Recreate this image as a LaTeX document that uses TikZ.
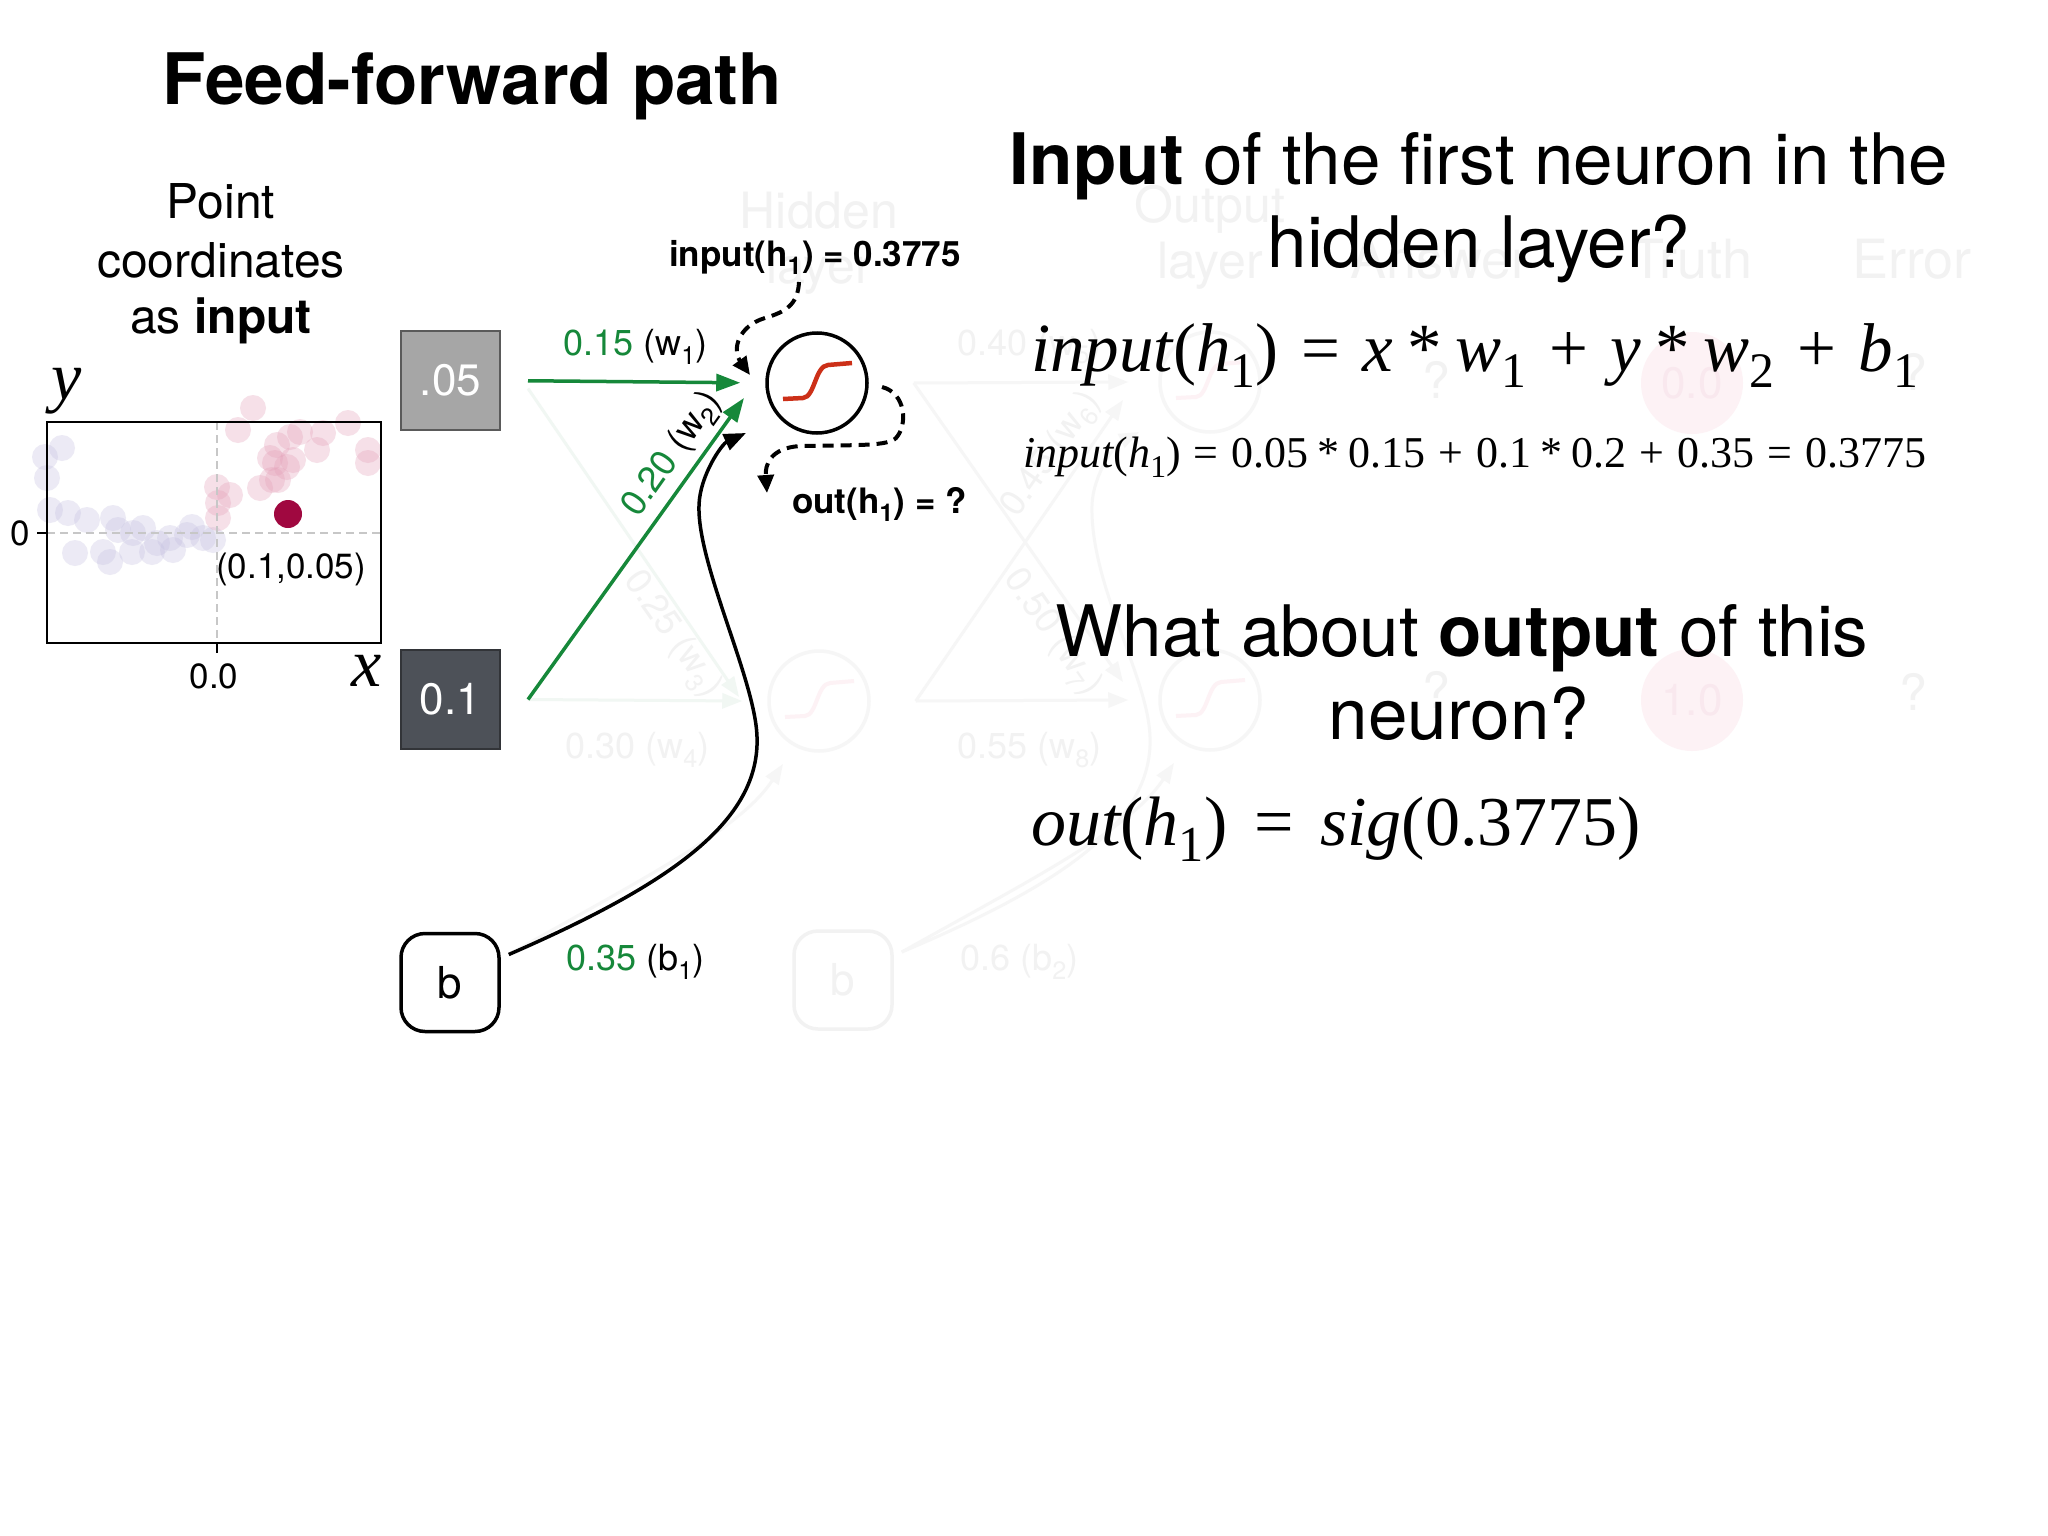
\documentclass[tikz,border=0pt]{standalone}
\usepackage{fontspec}
\usepackage{graphicx}
\setmainfont{TeX Gyre Heros}
\newfontfamily\tms{Liberation Serif}
\usetikzlibrary{arrows.meta}
\definecolor{grn}{RGB}{22,136,58}
\definecolor{boxlight}{RGB}{166,166,166}
\definecolor{boxlightedge}{RGB}{90,90,90}
\definecolor{boxdark}{RGB}{77,81,88}
\definecolor{boxdarkedge}{RGB}{50,52,56}
\definecolor{dotred}{RGB}{160,8,64}
\definecolor{sigred}{RGB}{204,48,24}
\definecolor{dotpink}{RGB}{228,160,184}
\definecolor{dotblue}{RGB}{196,192,224}
\definecolor{faint}{RGB}{242,242,242}
\definecolor{faintline}{RGB}{246,246,246}
\definecolor{faintgrn}{RGB}{241,247,243}
\definecolor{faintpink}{RGB}{253,242,245}
\definecolor{faintpinktext}{RGB}{249,232,238}
\newcommand\fsz[1]{\fontsize{#1pt}{#1pt}\selectfont}
\newcommand\lsub[1]{\raisebox{-0.24em}{\upshape\scalebox{0.72}{#1}}}
\newcommand\mysp{\hspace{0.33em}}
\newcommand\myssp{\hspace{0.2em}}
\newcommand\mybsp{\hspace{0.3em}}
\newcommand\mybssp{\hspace{0.2em}}
\begin{document}
\begin{tikzpicture}[x=1pt,y=-1pt,
  inbox/.style={draw, line width=2pt, minimum width=99pt, minimum height=99pt, inner sep=0pt, text=white, font=\fsz{44}},
  biasbox/.style={draw, line width=3.5pt, rounded corners=24pt, minimum width=98pt, minimum height=98pt, inner sep=0pt, font=\fsz{44}},
  neuron/.style={circle, draw, line width=3.5pt, minimum size=100pt, inner sep=0pt},
  garrow/.style={grn, line width=3.5pt, -{Triangle[length=24pt,width=17pt]}},
  barrow/.style={black, line width=3.5pt, -{Triangle[length=22pt,width=17pt]}},
  darrow/.style={black, line width=4pt, dash pattern=on 11pt off 7pt, -{Triangle[length=18pt,width=16pt]}},
  farrow/.style={faintline, line width=3pt, -{Triangle[length=20pt,width=15pt]}},
  fgarrow/.style={faintgrn, line width=3pt, -{Triangle[length=20pt,width=15pt]}},
  lbl/.style={inner sep=0pt, font=\fsz{36}},
  flbl/.style={inner sep=0pt, font=\fsz{36}, text=faint},
  hdr/.style={inner sep=0pt, font=\fsz{71}, anchor=base},
  fhdr/.style={inner sep=0pt, font=\fsz{50}, anchor=base, text=faint},
  eqn/.style={inner sep=0pt, anchor=base west},
  bold/.style={inner sep=0pt, font=\fsz{35}\bfseries, anchor=base west}
]
\fill[white] (0,0) rectangle (2048,1536);
\useasboundingbox (0,0) rectangle (2048,1536);

% ---------------- faint background network ----------------
\node[fhdr] (hidA) at (819,228) {Hidden};
\node[fhdr] (hidB) at (819,283) {layer};
\node[fhdr] (outA) at (1210,222) {Output};
\node[fhdr] (outB) at (1210,278) {layer};
\node[fhdr, font=\fsz{54}] (ans) at (1440,278) {Answer};
\node[fhdr, font=\fsz{54}] (tru) at (1692,278) {Truth};
\node[fhdr, font=\fsz{54}] (err) at (1912,278) {Error};

\node[neuron, draw=faintline] (h2) at (819,701) {};
\node[neuron, draw=faintline] (o1) at (1210,382) {};
\node[neuron, draw=faintline] (o2) at (1210,700) {};
\foreach \n in {h2,o1,o2}{
  \draw[faintpink, line width=4pt] ([shift={(-34,16)}]\n.center) -- ([shift={(-14,15)}]\n.center)
    .. controls ([shift={(-2,14)}]\n.center) and ([shift={(-2,-17)}]\n.center) .. ([shift={(11,-18)}]\n.center)
    -- ([shift={(35,-20)}]\n.center);
}
\node[circle, fill=faintpink, minimum size=102pt, inner sep=0pt, font=\fsz{44}, text=faintpinktext] (t1) at (1692,383) {0.0};
\node[circle, fill=faintpink, minimum size=102pt, inner sep=0pt, font=\fsz{44}, text=faintpinktext] (t2) at (1692,700) {1.0};
\node[fhdr, anchor=center] (a1) at (1436,380) {?};
\node[fhdr, anchor=center] (a2) at (1436,690) {?};
\node[fhdr, anchor=center] (e1) at (1913,372) {?};
\node[fhdr, anchor=center] (e2) at (1913,692) {?};

\node[biasbox, draw=faint, text=faint] (b2) at (843,980) {b};

% ---------------- main input boxes and neuron ----------------
\node[inbox, fill=boxlight, draw=boxlightedge] (x05) at (450.5,380.5) {.05};
\node[inbox, fill=boxdark, draw=boxdarkedge] (x1) at (450.5,699.5) {0.1};
\node[biasbox] (b1) at (450,982.5) {b};
\node[neuron] (h1) at (817,383) {};

% faint connections
\draw[fgarrow] ([shift={(27,8)}]x05.east) -- ([shift={(-80,-4)}]h2.center);
\draw[fgarrow] ([xshift=27pt]x1.east) -- ([xshift=-25pt]h2.west);
\draw[farrow] ([xshift=45pt]h1.east) -- ([xshift=-30pt]o1.west);
\draw[farrow] ([xshift=45pt]h1.east) -- ([shift={(-87,-18)}]o2.center);
\draw[farrow] ([xshift=45pt]h2.east) -- ([shift={(-87,18)}]o1.center);
\draw[farrow] ([xshift=45pt]h2.east) -- ([xshift=-30pt]o2.west);
\draw[farrow] ([shift={(8,-28)}]b1.east) .. controls (640,880) and (740,830) .. ([shift={(-36,63)}]h2.center);
\draw[farrow] ([shift={(8,-28)}]b2.east) .. controls (1030,880) and (1130,830) .. ([shift={(-36,63)}]o2.center);
\draw[farrow] ([shift={(8,-28)}]b2.east) .. controls (1073,880) and (1161,815) .. (1149,725)
   .. controls (1141,665) and (1090,580) .. (1092,505)
   .. controls (1093,475) and (1115,444) .. ([shift={(-71,50)}]o1.center);

\node[flbl, rotate=-55] (w3) at (672,635) {0.25 (w\textsubscript{3})};
\node[flbl, anchor=base west] (w4) at (565,758) {0.30 (w\textsubscript{4})};
\node[flbl, anchor=base west] (w5) at (957,355) {0.40 (w\textsubscript{5})};
\node[flbl, rotate=55] (w6) at (1052,455) {0.45 (w\textsubscript{6})};
\node[flbl, rotate=-55] (w7) at (1052,633) {0.50 (w\textsubscript{7})};
\node[flbl, anchor=base west] (w8) at (957,758) {0.55 (w\textsubscript{8})};
\node[flbl, anchor=base west] (bb2) at (960,970) {0.6 (b\textsubscript{2})};

% ---------------- title and left text ----------------
\node[inner sep=0pt, anchor=base west, font=\fsz{71}\bfseries] (title) at (162,105) {Feed-forward path};
\node[inner sep=0pt, anchor=base, font=\fsz{48}] (pc1) at (221,218) {Point};
\node[inner sep=0pt, anchor=base, font=\fsz{48}] (pc2) at (221,277) {coordinates};
\node[inner sep=0pt, anchor=base, font=\fsz{48}] (pc3) at (221,333) {as \textbf{input}};

% ---------------- scatter plot ----------------
\foreach \p in {(45,457),(62,448),(47,478),(50,510),(68,513),(87,520),(113,518),(118,530),
  (75,553),(103,552),(110,562),(133,533),(132,552),(143,528),(152,552),(157,543),(170,538),
  (173,550),(187,535),(192,527),(203,538),(213,540)}
  \fill[dotblue, opacity=0.32] \p circle (13pt);
\foreach \p in {(253,408),(238,430),(217,487),(230,495),(218,518),(218,503),(260,488),(272,480),
  (270,458),(277,445),(290,437),(300,432),(317,450),(323,433),(348,423),(368,450),(368,463),
  (287,467),(293,460),(275,463),(278,480)}
  \fill[dotpink, opacity=0.32] \p circle (13pt);
\draw[black!22, line width=1.2pt, dash pattern=on 8pt off 5pt] (217,422) -- (217,643);
\draw[black!22, line width=1.2pt, dash pattern=on 8pt off 5pt] (47,533) -- (381,533);
\draw[line width=2pt] (47,422) rectangle (381,643);
\draw[line width=1.6pt] (37,533) -- (47,533);
\draw[line width=1.6pt] (217,643) -- (217,653);
\fill[dotred] (288,514) circle (14pt);
\node[inner sep=0pt, font=\fsz{35}] (zero) at (20,533) {0};
\node[inner sep=0pt, anchor=base, font=\fsz{35}] (zz) at (214,688) {0.0};
\node[inner sep=0pt, anchor=base west, font=\fsz{35}] (pt) at (216,578) {(0.1,0.05)};
\node[inner sep=0pt, anchor=base, font=\tms\itshape\fsz{68}] (ylab) at (67,399) {y};
\node[inner sep=0pt, anchor=base, font=\tms\itshape\fsz{68}] (xlab) at (367,686) {x};

% ---------------- sigmoid in neuron ----------------
\draw[sigred, line width=4.5pt] ([shift={(-34,16)}]h1.center) -- ([shift={(-14,15)}]h1.center)
    .. controls ([shift={(-2,14)}]h1.center) and ([shift={(-2,-17)}]h1.center) .. ([shift={(11,-18)}]h1.center)
    -- ([shift={(35,-20)}]h1.center);

% ---------------- main connections ----------------
\draw[garrow, shorten <=27pt, shorten >=25pt] (x05.east) -- (h1.west);
\draw[garrow] ([xshift=27pt]x1.east) -- ([shift={(-73,15)}]h1.center);
\draw[barrow] ([shift={(8,-28)}]b1.east) .. controls (680,880) and (768,815) .. (756,725)
   .. controls (748,665) and (697,560) .. (699,505)
   .. controls (700,475) and (722,444) .. ([shift={(-71,50)}]h1.center);

\node[lbl, anchor=base west] (w1) at (563,355) {\color{grn}0.15 \color{black}(w\textsubscript{1})};
\node[lbl, rotate=54.7] (w2) at (673,455) {\color{grn}0.20 \color{black}(w\textsubscript{2})};
\node[lbl, anchor=base west] (bb1) at (566,970) {\color{grn}0.35 \color{black}(b\textsubscript{1})};

\node[bold] (inl) at (669,266) {input(h\textsubscript{1}) = 0.3775};
\node[bold] (outl) at (792,513) {out(h\textsubscript{1}) = ?};
\coordinate (d1s) at (799,282);
\coordinate (d2s) at (882,387);
\draw[darrow] (d1s) .. controls (798,305) and (785,312) .. (765,318)
   .. controls (738,326) and (732,350) .. ([shift={(-67,-8)}]h1.center);
\draw[darrow] (d2s) .. controls (906,393) and (908,425) .. (896,438)
   .. controls (888,446) and (860,445) .. (800,446)
   .. controls (770,448) and (765,465) .. ([shift={(-50,110)}]h1.center);

% ---------------- right side text ----------------
\node[hdr] (q1a) at (1479,184) {\textbf{Input} of the first neuron in the};
\node[hdr] (q1b) at (1479,267) {hidden layer?};
\node[eqn, font=\tms\fsz{69}] (eq1) at (1031,371)
  {\itshape input\upshape(\itshape h\lsub{1}\upshape)\mysp=\mysp\itshape x\myssp\upshape*\myssp\itshape w\lsub{1}\mysp\upshape+\mysp\itshape y\myssp\upshape*\myssp\itshape w\lsub{2}\mysp\upshape+\mysp\itshape b\lsub{1}};
\node[eqn, font=\tms\fsz{44}] (eq2) at (1023,467)
  {\itshape input\upshape(\itshape h\lsub{1}\upshape)\mybsp=\mybsp0.05\mybssp*\mybssp0.15\mybsp+\mybsp0.1\mybssp*\mybssp0.2\mybsp+\mybsp0.35\mybsp=\mybsp0.3775};
\node[hdr] (q2a) at (1462,656) {What about \textbf{output} of this};
\node[hdr] (q2b) at (1459,739) {neuron?};
\node[eqn, font=\tms\fsz{70}] (eq3) at (1031,845)
  {\itshape out\upshape(\itshape h\lsub{1}\upshape)\hspace{0.38em}=\hspace{0.38em}\itshape sig\upshape(0.3775)};
\end{tikzpicture}
\end{document}
